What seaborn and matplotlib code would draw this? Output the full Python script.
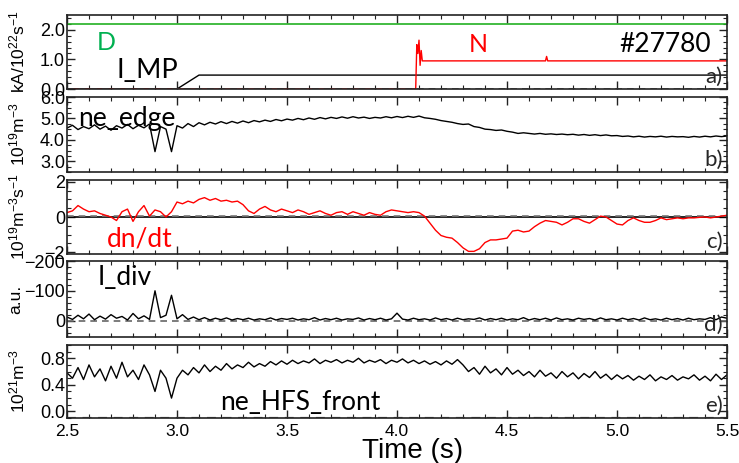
import numpy as np
import pandas as pd
import matplotlib
matplotlib.use("Agg")
import matplotlib.pyplot as plt
from matplotlib.ticker import MultipleLocator, FormatStrFormatter
import seaborn as sns

sns.set_style("ticks")
plt.rcParams["font.family"] = ["Liberation Sans", "DejaVu Sans"]
plt.rcParams["mathtext.default"] = "regular"

# sample times of the traces (s)
time = np.round(2.5 + 0.025 * np.arange(121), 3)

# panel a: D / N puff rates and I_MP coil current
d_time = [2.5, 5.5]
d_flux = [2.2, 2.2]
n_time = [2.5, 4.085, 4.09, 4.095, 4.10, 4.105, 4.11, 4.115, 4.12, 4.675, 4.68, 4.685, 5.5]
n_flux = [0.0, 0.0, 1.5, 1.2, 1.65, 0.8, 1.3, 0.95, 0.95, 0.95, 1.1, 0.95, 0.95]
imp_time = [2.5, 3.0, 3.1, 5.5]
imp_curr = [0.0, 0.0, 0.47, 0.47]

# panel b: edge density
ne_edge = [4.55, 4.68, 4.48, 4.62, 4.52, 4.70, 4.50, 4.64, 4.45, 4.66,
           4.55, 4.72, 4.52, 4.68, 4.56, 4.74, 3.45, 4.62, 4.50, 3.45,
           4.66, 4.55, 4.76, 4.62, 4.80, 4.70, 4.82, 4.74, 4.85, 4.76,
           4.86, 4.78, 4.88, 4.80, 4.90, 4.84, 4.92, 4.86, 4.95, 4.89,
           4.97, 4.92, 5.00, 4.94, 5.02, 4.96, 5.04, 4.98, 5.05, 5.00,
           5.07, 5.01, 5.08, 5.02, 5.06, 5.00, 5.05, 5.02, 5.08, 5.03,
           5.09, 5.04, 5.10, 5.05, 5.11, 5.03, 5.00, 4.96, 4.90, 4.86,
           4.82, 4.76, 4.72, 4.74, 4.62, 4.58, 4.50, 4.48, 4.44, 4.46,
           4.40, 4.36, 4.30, 4.33, 4.30, 4.27, 4.30, 4.26, 4.28, 4.25,
           4.27, 4.24, 4.26, 4.22, 4.25, 4.21, 4.24, 4.20, 4.23, 4.19,
           4.20, 4.16, 4.18, 4.14, 4.17, 4.13, 4.16, 4.14, 4.17, 4.13,
           4.16, 4.14, 4.15, 4.12, 4.16, 4.13, 4.17, 4.14, 4.18, 4.15,
           4.18]

# panel c: dn/dt
dndt = [0.25, 0.35, 0.65, 0.45, 0.30, 0.35, 0.20, 0.10, 0.00, -0.20,
        0.30, 0.45, -0.25, 0.30, 0.65, 0.05, 0.40, 0.30, 0.00, 0.30,
        0.85, 0.75, 0.90, 0.80, 1.00, 1.10, 0.95, 1.05, 0.90, 0.95,
        0.85, 0.90, 0.70, 0.35, 0.20, 0.45, 0.60, 0.40, 0.30, 0.45,
        0.35, 0.25, 0.40, 0.30, 0.15, 0.25, 0.35, 0.20, 0.10, 0.25,
        0.30, 0.15, 0.30, 0.20, 0.10, 0.25, 0.15, 0.10, 0.30, 0.40,
        0.35, 0.30, 0.25, 0.30, 0.25, 0.05, -0.35, -0.75, -1.05, -1.15,
        -1.20, -1.45, -1.75, -1.95, -1.95, -1.80, -1.45, -1.30, -1.30, -1.25,
        -1.20, -0.80, -0.75, -0.85, -0.80, -0.55, -0.35, -0.20, -0.25, -0.30,
        -0.45, -0.30, -0.10, -0.10, -0.25, -0.35, -0.15, 0.05, 0.00, -0.20,
        -0.40, -0.45, -0.20, -0.05, -0.20, -0.30, -0.30, -0.20, -0.05, -0.15,
        -0.10, -0.05, -0.10, -0.05, -0.05, -0.02, 0.00, -0.05, 0.00, 0.05,
        0.10]

# panel d: divertor current
i_div = [-12, -4, -18, -6, -22, -3, -15, -5, -20, -8,
         -14, -2, -24, -6, -16, -4, -100, -10, -18, -85,
         -6, -20, -4, -12, -3, -10, -2, -8, -3, -9,
         -2, -7, -3, -8, -2, -6, -3, -9, -2, -7,
         -4, -8, -2, -6, -3, -10, -2, -7, -3, -8,
         -2, -6, -4, -9, -2, -7, -3, -8, -2, -6,
         -25, -5, -2, -8, -3, -6, -2, -9, -3, -7,
         -2, -8, -3, -6, -4, -9, -2, -7, -3, -8,
         -2, -6, -3, -10, -2, -7, -3, -8, -2, -9,
         -3, -6, -2, -8, -4, -7, -2, -9, -3, -6,
         -2, -8, -3, -7, -2, -9, -3, -6, -2, -8,
         -3, -7, -2, -8, -3, -6, -4, -10, -3, -12,
         -8]

# panel e: HFS front density
ne_hfs = [0.58, 0.50, 0.66, 0.48, 0.70, 0.52, 0.64, 0.46, 0.68, 0.50,
          0.74, 0.52, 0.62, 0.48, 0.70, 0.55, 0.30, 0.62, 0.50, 0.20,
          0.50, 0.62, 0.55, 0.66, 0.58, 0.70, 0.60, 0.68, 0.62, 0.72,
          0.64, 0.70, 0.66, 0.74, 0.67, 0.72, 0.68, 0.75, 0.70, 0.76,
          0.71, 0.77, 0.72, 0.76, 0.73, 0.79, 0.72, 0.77, 0.74, 0.78,
          0.73, 0.77, 0.74, 0.80, 0.73, 0.77, 0.74, 0.78, 0.72, 0.77,
          0.74, 0.79, 0.73, 0.77, 0.72, 0.76, 0.71, 0.75, 0.70, 0.76,
          0.71, 0.78, 0.70, 0.60, 0.66, 0.56, 0.68, 0.58, 0.64, 0.55,
          0.66, 0.56, 0.62, 0.54, 0.60, 0.52, 0.62, 0.53, 0.58, 0.50,
          0.60, 0.52, 0.58, 0.49, 0.57, 0.51, 0.60, 0.50, 0.56, 0.48,
          0.55, 0.49, 0.54, 0.47, 0.53, 0.48, 0.55, 0.46, 0.52, 0.48,
          0.54, 0.47, 0.52, 0.49, 0.55, 0.47, 0.53, 0.46, 0.56, 0.48,
          0.55]

RED = "#ff0000"
GREEN = "#22b022"
ANNOT = ["Lato", "DejaVu Sans"]

fig = plt.figure(figsize=(7.39, 4.63), dpi=100)
W, H = 739, 463
left, right = 67, 727
boxes = [(15, 89), (97, 172), (180, 254), (261, 337), (345, 418)]
axes = []
for top, bot in boxes:
    axes.append(fig.add_axes([left / W, 1 - bot / H, (right - left) / W, (bot - top) / H]))
ax_a, ax_b, ax_c, ax_d, ax_e = axes

# a)
sns.lineplot(x=d_time, y=d_flux, ax=ax_a, color=GREEN, lw=1.2, estimator=None, sort=False)
sns.lineplot(x=imp_time, y=imp_curr, ax=ax_a, color="black", lw=1.0, estimator=None, sort=False)
sns.lineplot(x=n_time, y=n_flux, ax=ax_a, color=RED, lw=1.0, estimator=None, sort=False)
ax_a.set_ylim(0, 2.5)
ax_a.set_yticks([0, 1, 2])
ax_a.yaxis.set_minor_locator(MultipleLocator(0.2))
ax_a.yaxis.set_major_formatter(FormatStrFormatter("%.1f"))
ax_a.set_ylabel("kA/10$^{22}$s$^{-1}$")
ax_a.axhline(0, color="#666666", lw=1.2, ls=(0, (4, 3)))
ax_a.text(0.045, 0.53, "D", color="#00b050", fontsize=18, family=ANNOT, transform=ax_a.transAxes)
ax_a.text(0.623, 0.50, "N", color=RED, fontsize=18, family=ANNOT, ha="center", transform=ax_a.transAxes)
ax_a.text(0.975, 0.50, "#27780", color="black", fontsize=19, family=ANNOT, ha="right", transform=ax_a.transAxes)
ax_a.text(0.075, 0.15, "I_MP", color="black", fontsize=19.5, family=ANNOT, transform=ax_a.transAxes)

# b)
sns.lineplot(x=time, y=ne_edge, ax=ax_b, color="black", lw=1.0)
ax_b.set_ylim(2.5, 6.0)
ax_b.set_yticks([3, 4, 5, 6])
ax_b.yaxis.set_minor_locator(MultipleLocator(0.25))
ax_b.yaxis.set_major_formatter(FormatStrFormatter("%.1f"))
ax_b.set_ylabel("10$^{19}$m$^{-3}$")
ax_b.text(0.017, 0.61, "ne_edge", color="black", fontsize=19, family=ANNOT, transform=ax_b.transAxes)

# c)
ax_c.axhline(0, color="black", lw=1.2)
ax_c.axhline(0.05, color="#777777", lw=1.2, ls=(0, (4, 3)))
sns.lineplot(x=time, y=dndt, ax=ax_c, color=RED, lw=1.0)
ax_c.set_ylim(-2.1, 2.1)
ax_c.set_yticks([-2, 0, 2])
ax_c.yaxis.set_minor_locator(MultipleLocator(0.5))
ax_c.set_ylabel("10$^{19}$m$^{-3}$s$^{-1}$")
ax_c.text(0.06, 0.10, "dn/dt", color=RED, fontsize=19, family=ANNOT, transform=ax_c.transAxes)

# d)
ax_d.axhline(0, color="#666666", lw=1.2, ls=(0, (4, 3)))
sns.lineplot(x=time, y=i_div, ax=ax_d, color="black", lw=1.0)
ax_d.set_ylim(55, -200)
ax_d.set_yticks([-200, -100, 0])
ax_d.yaxis.set_minor_locator(MultipleLocator(20))
ax_d.set_ylabel("a.u.")
ax_d.text(0.047, 0.68, "I_div", color="black", fontsize=19, family=ANNOT, transform=ax_d.transAxes)

# e)
sns.lineplot(x=time, y=ne_hfs, ax=ax_e, color="black", lw=1.0)
ax_e.set_ylim(-0.1, 1.0)
ax_e.axhline(-0.1, color="#666666", lw=1.6, ls=(0, (4, 3)))
ax_e.set_yticks([0, 0.4, 0.8])
ax_e.yaxis.set_minor_locator(MultipleLocator(0.1))
ax_e.yaxis.set_major_formatter(FormatStrFormatter("%.1f"))
ax_e.set_ylabel("10$^{21}$m$^{-3}$")
ax_e.text(0.232, 0.11, "ne_HFS_front", color="black", fontsize=19, family=ANNOT, transform=ax_e.transAxes)
ax_e.set_xlabel("Time (s)", fontsize=20, color="black")
ax_e.xaxis.set_label_coords(0.523, -0.27)

for ax, tag in zip(axes, "abcde"):
    ax.set_xlim(2.5, 5.5)
    ax.xaxis.set_major_locator(MultipleLocator(0.5))
    ax.xaxis.set_minor_locator(MultipleLocator(0.1))
    ax.tick_params(which="both", direction="in", top=True, right=True, labelsize=13, pad=1.5,
                   color="#222222", labelcolor="black")
    ax.tick_params(which="major", length=6, width=1)
    ax.tick_params(which="minor", length=3, width=0.8)
    ax.tick_params(axis="x", pad=4, labelsize=12.5)
    if ax is not ax_e:
        ax.set_xlabel("")
        ax.tick_params(axis="x", labelbottom=False)
    ax.yaxis.label.set_size(12.5)
    ax.yaxis.label.set_color("black")
    ax.yaxis.set_label_coords(-0.066 if ax is ax_d else -0.06, 0.5)
    for sp in ax.spines.values():
        sp.set_color("#222222")
        sp.set_linewidth(1.2)
    ax.text(0.993, 0.03, tag + ")", fontsize=16, family=ANNOT, ha="right", va="bottom",
            transform=ax.transAxes)

fig.savefig("out.png", dpi=100)
